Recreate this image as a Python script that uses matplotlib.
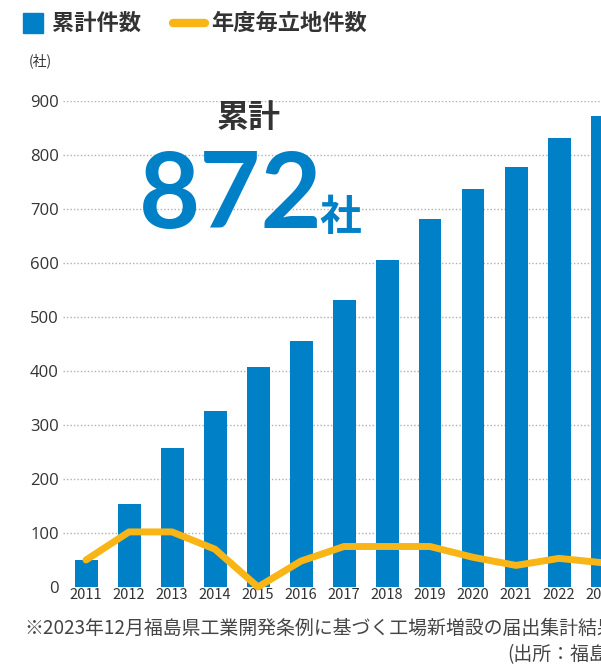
import numpy as np
import matplotlib.pyplot as plt
from matplotlib.lines import Line2D
from matplotlib.patches import Rectangle

plt.rcParams['font.family'] = ['Noto Sans CJK JP', 'DejaVu Sans']

years = ['2011', '2012', '2013', '2014', '2015', '2016', '2017',
         '2018', '2019', '2020', '2021', '2022', '2023']
cumulative = [50, 154, 257, 326, 407, 455, 531, 605, 681, 737, 777, 831, 872]
annual = [50, 102, 102, 70, 0, 48, 75, 75, 75, 55, 40, 53, 45]
yticks = [0, 100, 200, 300, 400, 500, 600, 700, 800, 900]

BLUE = '#0080c6'
ORANGE = '#f8b515'
TXT = '#333333'

W, H = 601, 667
fig = plt.figure(figsize=(W / 100, H / 100), dpi=100)

# axes runs off the right edge, like the cropped original
left_px, right_px = 63, 660
top_px, bottom_px = 101, 587
ax = fig.add_axes([left_px / W, 1 - bottom_px / H,
                   (right_px - left_px) / W, (bottom_px - top_px) / H])

x = np.arange(len(years))
step = 43.0
ax.set_xlim(-(86 - left_px) / step, (right_px - 86) / step)
ax.set_ylim(0, 900)

ax.bar(x, cumulative, width=23 / step, color=BLUE, zorder=2)
ax.plot(x, annual, color=ORANGE, lw=5, solid_joinstyle='round',
        solid_capstyle='round', zorder=3, clip_on=False)

ax.set_yticks(yticks)
ax.set_yticklabels([str(v) for v in yticks], fontsize=12, color=TXT,
                   family=['Open Sans', 'DejaVu Sans'])
ax.set_xticks(x)
ax.set_xticklabels(years, fontsize=10.5, color=TXT)
ax.tick_params(axis='both', length=0)
ax.tick_params(axis='y', pad=3)
ax.tick_params(axis='x', pad=1)
for gy in yticks[1:]:
    ax.axhline(gy, color='#b0b0b0', lw=1, ls=(0, (1, 1.5)), zorder=1)
for s in ax.spines.values():
    s.set_visible(False)

# legend at top
fig.patches.append(Rectangle((23 / W, 1 - 33 / H), 20 / W, 20 / H,
                             transform=fig.transFigure, color=BLUE))
fig.text(52 / W, 1 - 23 / H, '累計件数', fontsize=16, fontweight='bold',
         color=TXT, va='center', ha='left')
fig.lines.append(Line2D([173 / W, 205 / W], [1 - 23 / H, 1 - 23 / H],
                        transform=fig.transFigure, color=ORANGE, lw=6,
                        solid_capstyle='round'))
fig.text(211 / W, 1 - 23 / H, '年度毎立地件数', fontsize=16, fontweight='bold',
         color=TXT, va='center', ha='left')
fig.text(29 / W, 1 - 61 / H, '(社)', fontsize=10, color=TXT, va='center', ha='left')

# total callout
fig.text(249 / W, 1 - 118 / H, '累計', fontsize=23, fontweight='bold',
         color=TXT, va='center', ha='center')
fig.text(139 / W, 1 - 228 / H, f'{cumulative[-1]}', fontsize=76, fontweight='bold',
         color=BLUE, va='baseline', ha='left', family=['Lato', 'DejaVu Sans'])
fig.text(319 / W, 1 - 230 / H, '社', fontsize=30, fontweight='bold',
         color=BLUE, va='baseline', ha='left')

# footnote
fig.text(24 / W, 1 - 628 / H, '※2023年12月福島県工業開発条例に基づく工場新増設の届出集計結果',
         fontsize=13.6, color='#444444', va='center', ha='left')
fig.text(507 / W, 1 - 655 / H, '(出所：福島県)',
         fontsize=13.6, color='#444444', va='center', ha='left')

fig.savefig('out.png', dpi=100)
